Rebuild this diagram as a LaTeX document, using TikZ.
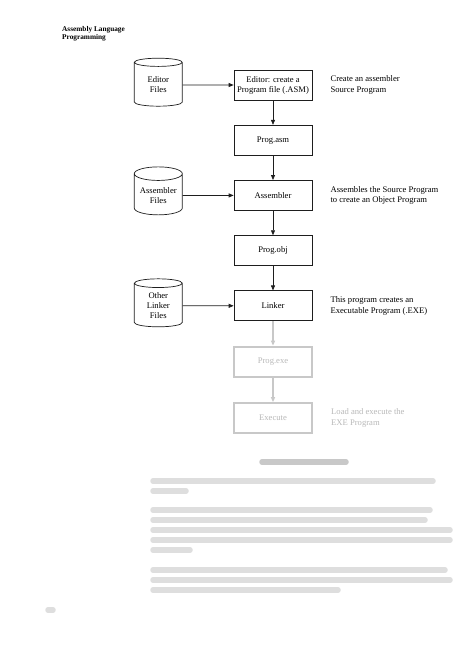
\documentclass[tikz,border=0pt]{standalone}
\usepackage{fontspec}
\setmainfont{Liberation Serif}
\usetikzlibrary{arrows.meta,positioning,shapes.geometric}
\definecolor{ink}{RGB}{30,30,30}
\definecolor{fade}{RGB}{200,200,200}
\definecolor{fadetext}{RGB}{185,185,185}
\tikzset{
  procbox/.style={rectangle, draw=ink, line width=0.7pt, fill=white,
                  align=center, font=\fontsize{8.6}{10}\selectfont,
                  minimum width=78pt, minimum height=30pt, inner sep=2pt},
  procboxfade/.style={procbox, draw=fade, line width=2pt, text=fadetext},
  filestore/.style={cylinder, shape border rotate=90, aspect=0.35,
                    draw=ink, line width=0.7pt, align=center,
                    font=\fontsize{8.6}{10}\selectfont,
                    minimum width=48pt, minimum height=48pt, inner sep=1pt},
  note/.style={align=left, font=\fontsize{8.6}{10.5}\selectfont, inner sep=0pt},
  notefade/.style={note, text=fadetext},
  arr/.style={-{Triangle[length=5pt,width=4pt]}, line width=0.7pt, color=ink},
  arrfade/.style={-{Triangle[length=5pt,width=4pt]}, line width=1.5pt, color=fade},
  blurline/.style={line width=5.5pt, line cap=round, color=fade!60},
}
\begin{document}
\begin{tikzpicture}[x=1pt, y=-1pt, node distance=24.5pt]
  \useasboundingbox[fill=white] (0,0) rectangle (474,672);
  \node[anchor=north west, align=left, inner sep=0pt,
        font=\bfseries\fontsize{7.3}{8.7}\selectfont] (title) at (62,26)
        {Assembly Language\\Programming};
  % main chain
  \node[procbox] (editor) at (273,85) {Editor: create a\\Program file (.ASM)};
  \node[procbox, below=of editor] (progasm) {Prog.asm};
  \node[procbox, below=of progasm] (assembler) {Assembler};
  \node[procbox, below=of assembler] (progobj) {Prog.obj};
  \node[procbox, below=of progobj] (linker) {Linker};
  \node[procboxfade, below=of linker] (progexe) {Prog.exe};
  \node[procboxfade, below=of progexe] (execute) {Execute};
  % file stores
  \node[filestore, left=51pt of editor] (edfiles) {Editor\\Files};
  \node[filestore, left=51pt of assembler] (asmfiles) {Assembler\\Files};
  \node[filestore, left=51pt of linker] (linkfiles) {Other\\Linker\\Files};
  % notes
  \node[note, right=18pt of editor] (edtxt) {Create an assembler\\Source Program};
  \node[note, right=18pt of assembler] (asmtxt) {Assembles the Source Program\\to create an Object Program};
  \node[note, right=18pt of linker] (linktxt) {This program creates an\\Executable Program (.EXE)};
  \node[notefade, right=18pt of execute] (exetxt) {Load and execute the\\EXE Program};
  % connectors
  \draw[arr] (edfiles) -- (editor);
  \draw[arr] (asmfiles) -- (assembler);
  \draw[arr] (linkfiles) -- (linker);
  \draw[arr] (editor) -- (progasm);
  \draw[arr] (progasm) -- (assembler);
  \draw[arr] (assembler) -- (progobj);
  \draw[arr] (progobj) -- (linker);
  \draw[arrfade] (linker) -- (progexe);
  \draw[arrfade] (progexe) -- (execute);
  % blurred page text
  \draw[blurline, color=fade] (262,462) -- (346,462);
  \foreach \y/\xe in {481/433, 491/186, 510/430, 520/425, 530/450, 540/450,
                      550/190, 570/445, 580/450, 590/338}
    \draw[blurline] (153,\y) -- (\xe,\y);
  \draw[blurline] (48,610) -- (53,610);
\end{tikzpicture}
\end{document}
